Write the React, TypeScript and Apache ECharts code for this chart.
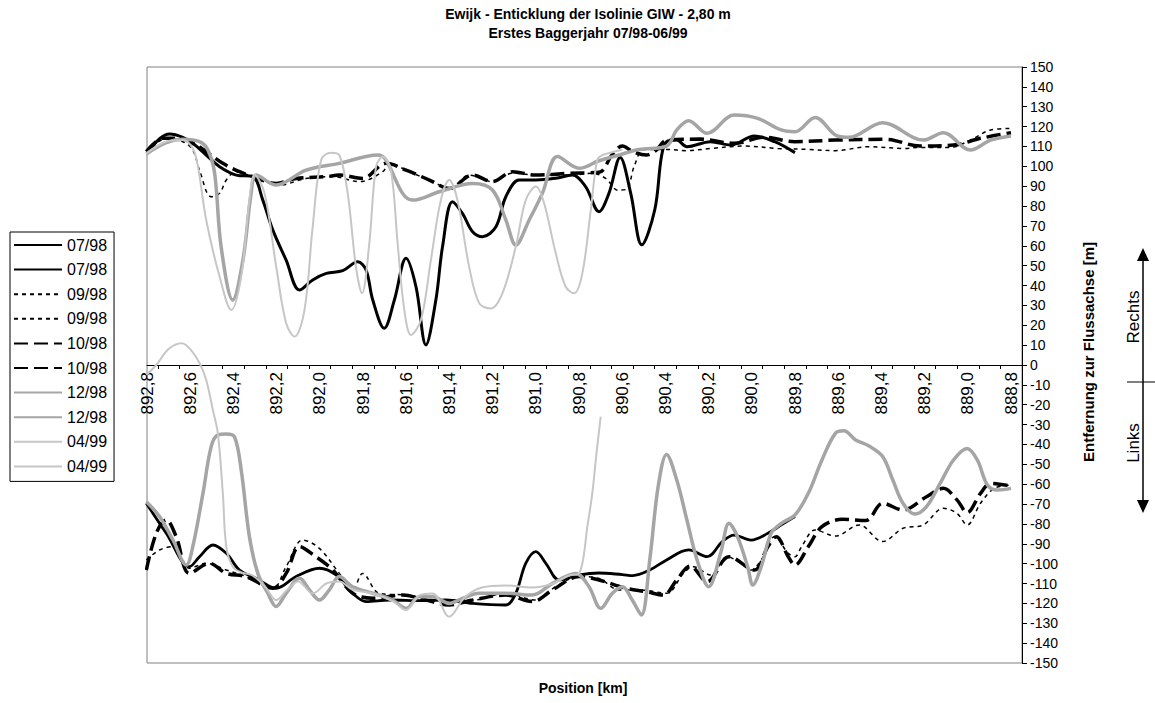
import React, { useEffect, useRef } from 'react';
import * as echarts from 'echarts';

const FONT = '"Liberation Sans", Arial, Helvetica, sans-serif';

const titleLine1 = 'Ewijk - Enticklung der Isolinie GIW - 2,80 m';
const titleLine2 = 'Erstes Baggerjahr 07/98-06/99';
const xAxisTitle = 'Position [km]';
const yAxisTitle = 'Entfernung zur Flussachse [m]';

const xLabelValues = [892.8, 892.6, 892.4, 892.2, 892.0, 891.8, 891.6, 891.4, 891.2, 891.0, 890.8, 890.6, 890.4, 890.2, 890.0, 889.8, 889.6, 889.4, 889.2, 889.0, 888.8];
const xTickValues = [892.75, 892.65, 892.55, 892.45, 892.35, 892.25, 892.15, 892.05, 891.95, 891.85, 891.75, 891.65, 891.55, 891.45, 891.35, 891.25, 891.15, 891.05, 890.95, 890.85, 890.75, 890.65, 890.55, 890.45, 890.35, 890.25, 890.15, 890.05, 889.95, 889.85, 889.75, 889.65, 889.55, 889.45, 889.35, 889.25, 889.15, 889.05, 888.95, 888.85];

// [km, Entfernung m]
const s0798R = [[892.80,106.5],[892.74,114.1],[892.695,116.3],[892.634,114.6],[892.588,111.6],[892.526,105.7],[892.464,99.8],[892.387,95.6],[892.31,94.8],[892.264,83.0],[892.218,68.0],[892.156,52.8],[892.094,37.7],[892.033,42.8],[891.97,46.1],[891.894,47.5],[891.825,52.0],[891.786,47.8],[891.755,32.7],[891.702,18.5],[891.655,32.7],[891.601,53.7],[891.555,39.4],[891.509,10.1],[891.463,32.7],[891.432,59.6],[891.386,82.2],[891.34,76.3],[891.293,67.1],[891.247,64.6],[891.185,69.6],[891.139,84.7],[891.077,93.1],[891.0,93.1],[890.908,94.0],[890.831,95.6],[890.77,89.8],[890.708,77.2],[890.662,86.4],[890.61,104.5],[890.561,86.4],[890.51,60.5],[890.45,78.0],[890.419,104.8],[890.395,112.4],[890.348,113.2],[890.301,109.9],[890.192,112.4],[890.098,110.7],[889.989,115.3],[889.895,112.4],[889.801,106.9]];
const s0798L = [[892.803,-69.6],[892.711,-84.7],[892.603,-101.5],[892.557,-96.5],[892.495,-90.6],[892.433,-94.8],[892.372,-103.2],[892.295,-107.4],[892.202,-112.4],[892.11,-106.5],[892.002,-102.3],[891.925,-105.7],[891.848,-114.9],[891.786,-119.1],[891.678,-118.3],[891.524,-118.6],[891.417,-118.3],[891.293,-120],[891.139,-120.8],[891.093,-114.9],[891.047,-99.8],[891.0,-93.9],[890.954,-99.8],[890.892,-108.2],[890.8,-105.7],[890.708,-104.7],[890.6,-105.5],[890.551,-106],[890.473,-103.2],[890.395,-98.1],[890.293,-93.1],[890.207,-96.5],[890.137,-88.9],[890.083,-85.6],[890.004,-88.1],[889.926,-84.7],[889.864,-80.5],[889.801,-76.3]];
const s0998R = [[892.80,106.5],[892.711,114.1],[892.634,112.4],[892.588,108.2],[892.557,98.1],[892.503,84.7],[892.464,86.4],[892.433,93.1],[892.387,97.3],[892.31,94.8],[892.187,90.6],[892.064,93.9],[891.94,94.8],[891.817,92.3],[891.709,97.3],[891.678,101.5],[891.601,98.1],[891.447,90.6],[891.401,88.1],[891.309,95.6],[891.201,92.3],[891.108,96.5],[890.985,95.6],[890.831,95.6],[890.739,96.5],[890.677,93.9],[890.62,88.0],[890.58,88.5],[890.545,100],[890.5,108.5],[890.395,108.5],[890.301,107.9],[890.192,109],[890.036,110.2],[889.88,109],[889.739,108.5],[889.614,107.9],[889.458,109.9],[889.301,109],[889.223,109.5],[889.082,109.5],[888.989,113.2],[888.895,118.3],[888.801,119.1]];
const s0998L = [[892.803,-98.1],[892.742,-93.1],[892.68,-91.4],[892.603,-102.3],[892.526,-99.8],[892.433,-103.2],[892.341,-106.5],[892.218,-112.4],[892.156,-101.5],[892.079,-88.1],[892.002,-92.3],[891.91,-104.9],[891.848,-113.2],[891.802,-104.9],[891.725,-114.9],[891.601,-115.8],[891.447,-118.3],[891.293,-118.3],[891.139,-114.9],[891.0,-118.3],[890.908,-111.6],[890.8,-106.5],[890.708,-107.5],[890.614,-113.2],[890.52,-113.2],[890.395,-114.9],[890.317,-104.9],[890.27,-101.5],[890.192,-105.7],[890.114,-96.5],[890.051,-99.8],[890.004,-103.2],[889.957,-98.1],[889.895,-86.4],[889.832,-94.8],[889.801,-96.5],[889.77,-91.4],[889.707,-83],[889.614,-86.1],[889.504,-80.5],[889.395,-88.9],[889.301,-82.2],[889.207,-80.5],[889.114,-72.1],[889.051,-74.7],[889.004,-80.5],[888.942,-69.6],[888.879,-62.1],[888.801,-60.4]];
const s1098R = [[892.803,107.4],[892.726,114.1],[892.649,114.1],[892.572,110.7],[892.526,107.4],[892.449,101.5],[892.372,97.3],[892.31,94.8],[892.202,91.4],[892.11,93.9],[891.97,94.8],[891.91,95.6],[891.802,93.9],[891.694,101.5],[891.601,98.1],[891.493,93.1],[891.401,88.9],[891.293,95.6],[891.201,92.3],[891.108,97.3],[891.0,95.6],[890.846,96.5],[890.708,97],[890.646,106],[890.6,110.2],[890.551,107.4],[890.489,105.7],[890.442,108.2],[890.395,113.2],[890.239,113.7],[890.083,111.6],[889.942,114.6],[889.801,112.4],[889.614,113.2],[889.379,113.6],[889.223,110.2],[889.067,110.7],[888.942,114.1],[888.801,116.9]];
const s1098L = [[892.803,-103.2],[892.757,-84.7],[892.711,-78],[892.665,-86.4],[892.603,-104.9],[892.511,-99.8],[892.433,-104.9],[892.341,-106.5],[892.218,-112.4],[892.156,-104.9],[892.094,-91.4],[892.018,-96.5],[891.94,-103.2],[891.848,-114.9],[891.755,-117.4],[891.617,-115.8],[891.509,-118.3],[891.401,-120.8],[891.293,-118.3],[891.139,-115.8],[891.016,-119.1],[890.923,-113.2],[890.8,-106.5],[890.708,-108.2],[890.583,-112.4],[890.489,-114.1],[890.41,-115.8],[890.348,-108.2],[890.286,-101.2],[890.207,-109],[890.106,-96.5],[889.989,-103.2],[889.926,-91.4],[889.887,-86.4],[889.832,-96.5],[889.801,-100.7],[889.739,-91.4],[889.676,-81.4],[889.582,-77.7],[889.473,-78.3],[889.395,-69.6],[889.301,-73],[889.192,-66.3],[889.114,-62.1],[889.051,-67.9],[889.004,-74.3],[888.942,-64.6],[888.895,-59.6],[888.801,-60.9]];
const s1298R = [[892.803,106.2],[892.711,111.9],[892.634,113.6],[892.557,112.4],[892.518,108.2],[892.487,96.5],[892.457,59.6],[892.403,32.7],[892.356,52.8],[892.318,86.4],[892.295,95.6],[892.202,90.6],[892.064,98.1],[891.91,101.5],[891.732,105.7],[891.694,103.2],[891.617,86.4],[891.57,83],[891.447,87.2],[891.293,91.4],[891.201,88.1],[891.139,73],[891.093,60.4],[891.031,73],[890.97,86.4],[890.9,104.9],[890.8,99],[890.708,102.8],[890.615,105.7],[890.523,108.5],[890.395,110.2],[890.348,118.3],[890.293,123],[890.207,116.6],[890.083,125.8],[889.973,124.1],[889.864,118.3],[889.801,117.4],[889.707,124.6],[889.614,115.8],[889.551,114.6],[889.395,122],[889.207,113.2],[889.114,116.9],[888.989,108.2],[888.895,113.2],[888.801,115.3]];
const s1298L = [[892.803,-68.8],[892.742,-76.3],[892.68,-88.1],[892.618,-100.7],[892.588,-91.4],[892.541,-64.6],[892.503,-41.1],[892.472,-35.2],[892.433,-34.7],[892.395,-36.1],[892.364,-52.8],[892.326,-86.4],[892.287,-104.9],[892.241,-114.9],[892.202,-121.6],[892.156,-114.9],[892.094,-107.4],[892.048,-113.2],[892.002,-118.3],[891.956,-113.2],[891.91,-106.5],[891.848,-111.6],[891.755,-114.9],[891.663,-118.3],[891.601,-122.5],[891.54,-116.6],[891.478,-116.6],[891.401,-120],[891.34,-117.5],[891.262,-114.9],[891.139,-114.9],[891.016,-115.8],[890.923,-109.9],[890.816,-104.9],[890.754,-111.6],[890.7,-122.5],[890.646,-114.9],[890.6,-111.6],[890.554,-118.3],[890.512,-125.8],[890.473,-98.1],[890.434,-61.2],[890.395,-45],[890.348,-57.9],[890.301,-78],[890.254,-98.1],[890.2,-111.6],[890.145,-94.8],[890.106,-79.7],[890.067,-86.4],[890.02,-101.5],[889.996,-110.7],[889.957,-101.5],[889.911,-84.7],[889.864,-79.7],[889.801,-75.5],[889.739,-64.6],[889.676,-47.8],[889.614,-34.4],[889.575,-33.1],[889.52,-37.7],[889.458,-40.8],[889.395,-46.1],[889.348,-57.9],[889.301,-69.6],[889.246,-75],[889.192,-71.3],[889.129,-59.6],[889.067,-47.8],[889.004,-42],[888.957,-47.8],[888.91,-60.4],[888.863,-62.9],[888.801,-62.1]];
const s0499R = [[892.803,106.5],[892.711,112.4],[892.634,113.2],[892.588,109],[892.564,99.8],[892.526,73],[892.464,44.5],[892.41,27.7],[892.364,44.5],[892.326,83],[892.302,95.6],[892.256,86.4],[892.202,49.5],[892.156,21],[892.117,14.3],[892.071,27.7],[892.033,69.6],[891.994,103.2],[891.948,106.9],[891.91,105.7],[891.871,86.4],[891.833,49.5],[891.805,36.1],[891.771,61.2],[891.74,99.8],[891.709,104.8],[891.671,98.1],[891.64,61.2],[891.609,27.7],[891.578,15.1],[891.532,22.6],[891.486,52.8],[891.44,83],[891.401,93.1],[891.363,83],[891.309,49.5],[891.262,31],[891.209,28.5],[891.155,36.1],[891.093,59.6],[891.047,83],[891.0,89.8],[890.962,81.4],[890.908,56.2],[890.862,39.4],[890.823,36.1],[890.785,46.1],[890.746,78],[890.716,103.2],[890.692,105.7],[890.65,107],[890.6,108.5]];
const s0499L = [[892.803,-5],[892.757,0],[892.70,8],[892.64,10.9],[892.6,8],[892.557,1],[892.526,-7.5],[892.495,-22.7],[892.472,-34.4],[892.449,-64.6],[892.433,-91.4],[892.403,-101.5],[892.36,-104.5],[892.31,-106],[892.25,-112],[892.202,-118.3],[892.15,-113],[892.1,-109],[892.033,-115],[891.97,-110],[891.91,-109],[891.85,-113],[891.755,-115],[891.66,-119],[891.601,-123.3],[891.54,-116],[891.478,-115],[891.401,-126.7],[891.33,-117],[891.25,-112],[891.139,-111],[891.016,-112],[890.92,-110],[890.85,-106],[890.8,-104.9],[890.76,-80],[890.739,-64.6],[890.72,-45],[890.7,-26]];

const seriesNames = ['07/98', '07/98 ', '09/98', '09/98 ', '10/98', '10/98 ', '12/98', '12/98 ', '04/99', '04/99 '];
const seriesData = [s0798R, s0798L, s0998R, s0998L, s1098R, s1098L, s1298R, s1298L, s0499R, s0499L];

export default function App() {
  const ref = useRef<HTMLDivElement>(null);

  useEffect(() => {
    document.body.style.margin = '0';
    if (!ref.current) return;
    const chart = echarts.init(ref.current, undefined, { renderer: 'svg' });

    const styles = [
      { color: '#000000', width: 3, type: 'solid' },
      { color: '#000000', width: 2.8, type: 'solid' },
      { color: '#000000', width: 1.5, type: [4, 4] },
      { color: '#000000', width: 1.5, type: [4, 4] },
      { color: '#000000', width: 3.5, type: [14, 6] },
      { color: '#000000', width: 3.5, type: [14, 6] },
      { color: '#a5a5a5', width: 3.5, type: 'solid' },
      { color: '#a5a5a5', width: 3.5, type: 'solid' },
      { color: '#c6c6c6', width: 2, type: 'solid' },
      { color: '#c6c6c6', width: 2, type: 'solid' },
    ];

    const series = seriesNames.map((name, i) => ({
      name,
      type: 'line',
      data: seriesData[i],
      smooth: 0.35,
      symbol: 'none',
      lineStyle: styles[i],
      itemStyle: { color: styles[i].color },
      emphasis: { disabled: true },
      z: 2 + i,
    }));

    const gridTop = 67;
    const gridBottom = 40;
    const plotHeight = 703 - gridTop - gridBottom;

    chart.setOption({
      animation: false,
      backgroundColor: '#ffffff',
      title: {
        text: titleLine1,
        subtext: titleLine2,
        left: 583,
        top: 0,
        textAlign: 'center',
        padding: [6, 5, 5, 5],
        itemGap: 3,
        textStyle: { fontSize: 14, fontWeight: 'bold', color: '#000', fontFamily: FONT, lineHeight: 16 },
        subtextStyle: { fontSize: 14, fontWeight: 'bold', color: '#000', fontFamily: FONT, lineHeight: 16 },
      },
      legend: {
        orient: 'vertical',
        left: 10,
        top: 232,
        itemWidth: 48,
        itemHeight: 14,
        itemGap: 8.6,
        padding: [5, 7, 7, 3],
        borderColor: '#000',
        borderWidth: 1,
        selectedMode: false,
        data: seriesNames,
        itemStyle: { opacity: 0 },
        formatter: (name: string) => name.trim(),
        textStyle: { fontSize: 16, color: '#000', fontFamily: FONT },
      },
      grid: {
        left: 147,
        right: 133,
        top: gridTop,
        bottom: gridBottom,
        containLabel: false,
        outerBoundsMode: 'none',
        show: true,
        borderColor: '#808080',
        borderWidth: 1,
        backgroundColor: 'transparent',
      },
      xAxis: {
        type: 'value',
        min: 888.75,
        max: 892.8,
        inverse: true,
        position: 'bottom',
        offset: -plotHeight / 2,
        axisLine: { show: true, onZero: false, lineStyle: { color: '#000', width: 1 } },
        axisTick: { show: true, customValues: xTickValues, length: 4, lineStyle: { color: '#000' } },
        axisLabel: {
          customValues: xLabelValues,
          rotate: 90,
          margin: 7,
          fontSize: 17,
          color: '#000',
          fontFamily: FONT,
          showMinLabel: true,
          showMaxLabel: true,
          formatter: (v: number) => v.toFixed(1).replace('.', ','),
        },
        splitLine: { show: false },
      },
      yAxis: {
        type: 'value',
        position: 'right',
        min: -150,
        max: 150,
        interval: 10,
        axisLine: { show: true, onZero: false, lineStyle: { color: '#000', width: 1 } },
        axisTick: { show: true, length: 5, lineStyle: { color: '#000' } },
        axisLabel: { fontSize: 14, color: '#000', margin: 8, fontFamily: FONT },
        splitLine: { show: false },
      },
      graphic: [
        {
          type: 'text', x: 1088, y: 352, rotation: Math.PI / 2,
          style: { text: yAxisTitle, font: 'bold 15px ' + FONT, fill: '#000', align: 'center', verticalAlign: 'middle' },
        },
        {
          type: 'text', x: 583, y: 688,
          style: { text: xAxisTitle, font: 'bold 14px ' + FONT, fill: '#000', align: 'center', verticalAlign: 'middle' },
        },
        {
          type: 'text', x: 1133, y: 317, rotation: Math.PI / 2,
          style: { text: 'Rechts', font: '17px ' + FONT, fill: '#000', align: 'center', verticalAlign: 'middle' },
        },
        {
          type: 'text', x: 1133, y: 443, rotation: Math.PI / 2,
          style: { text: 'Links', font: '17px ' + FONT, fill: '#000', align: 'center', verticalAlign: 'middle' },
        },
        { type: 'line', shape: { x1: 1143, y1: 258, x2: 1143, y2: 503 }, style: { stroke: '#000', lineWidth: 1.5 } },
        { type: 'line', shape: { x1: 1127, y1: 382, x2: 1155, y2: 382 }, style: { stroke: '#000', lineWidth: 1 } },
        { type: 'polygon', shape: { points: [[1143, 248], [1137, 261], [1149, 261]] }, style: { fill: '#000' } },
        { type: 'polygon', shape: { points: [[1143, 513], [1137, 500], [1149, 500]] }, style: { fill: '#000' } },
      ],
      series,
    });

    return () => chart.dispose();
  }, []);

  return <div ref={ref} style={{ width: 1155, height: 703 }} />;
}
